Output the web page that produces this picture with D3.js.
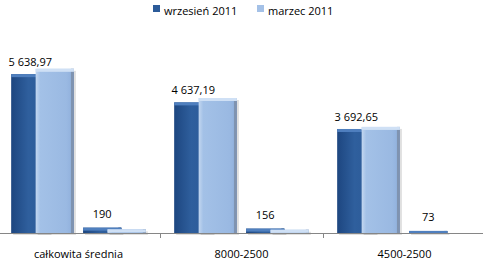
<!DOCTYPE html>
<html>
<head>
<meta charset="utf-8">
<script src="https://d3js.org/d3.v7.min.js"></script>
<style>
  body { margin: 0; background: #fff; }
  svg text { font-family: "Open Sans", sans-serif; font-size: 11px; fill: #000; }
</style>
</head>
<body>
<script>
// chart data
const categories = ["całkowita średnia", "8000-2500", "4500-2500"];
const subgroups = ["value", "change"];
const seriesNames = ["wrzesień 2011", "marzec 2011"];
const wrzesienValues = [5638.97, 4637.19, 3692.65];
const marzecValues = [5829, 4793, 3766];
const wrzesienChange = [190, 156, 73];
const marzecChange = [130, 115, 0];
const valueLabels = ["5 638,97", "4 637,19", "3 692,65"];
const changeLabels = ["190", "156", "73"];

const width = 483, height = 268;
const baseline = 233;

const svg = d3.select("body").append("svg")
  .attr("width", width).attr("height", height);

const defs = svg.append("defs");
function grad(id, stops) {
  const g = defs.append("linearGradient").attr("id", id)
    .attr("x1", 0).attr("x2", 1).attr("y1", 0).attr("y2", 0);
  stops.forEach(s => g.append("stop").attr("offset", s[0]).attr("stop-color", s[1]));
}
grad("gDark", [[0, "#1d4680"], [0.45, "#2f5f9d"], [1, "#2c5a97"]]);
grad("gLight", [[0, "#c3d7f0"], [0.12, "#a3c1e7"], [0.8, "#9ab9e2"], [1, "#8eaedb"]]);

const x0 = d3.scaleBand().domain(categories).range([-3, 486]);
const x1 = d3.scaleBand().domain(subgroups).range([0, x0.bandwidth()])
  .paddingInner(0.127).paddingOuter(0.197);
const y = d3.scaleLinear().domain([0, 6000]).range([baseline, 64]);

const barW = x1.bandwidth() * 0.61;
const styles = [
  { fill: "url(#gDark)", top: "#4f7fbe", side: "#24497c" },
  { fill: "url(#gLight)", top: "#cfe0f5", side: "#7f93b0" }
];

// rows: for each category, both subgroups, both series
const rows = [];
categories.forEach((c, i) => {
  rows.push({ c, sub: "value", s: 0, v: wrzesienValues[i] });
  rows.push({ c, sub: "value", s: 1, v: marzecValues[i] });
  rows.push({ c, sub: "change", s: 0, v: wrzesienChange[i] });
  rows.push({ c, sub: "change", s: 1, v: marzecChange[i] });
});

function barX(d) {
  return x0(d.c) + x1(d.sub) + d.s * (x1.bandwidth() - barW);
}

const bars = svg.append("g").selectAll("g").data(rows.filter(d => d.v > 0)).join("g");
// shadow
bars.append("rect")
  .attr("x", d => barX(d) + 2).attr("y", d => y(d.v) + 2)
  .attr("width", barW).attr("height", d => baseline - y(d.v))
  .attr("fill", "#000").attr("opacity", 0.12);
bars.append("rect")
  .attr("x", d => barX(d)).attr("y", d => y(d.v))
  .attr("width", barW).attr("height", d => baseline - y(d.v))
  .attr("fill", d => styles[d.s].fill);
bars.append("rect")
  .attr("x", d => barX(d) + barW - 3).attr("y", d => y(d.v))
  .attr("width", 3).attr("height", d => baseline - y(d.v))
  .attr("fill", d => styles[d.s].side);
bars.append("rect")
  .attr("x", d => barX(d)).attr("y", d => y(d.v))
  .attr("width", barW).attr("height", d => Math.min(3, baseline - y(d.v)))
  .attr("fill", d => styles[d.s].top);

// value labels above the dark bars
const labelG = svg.append("g").attr("text-anchor", "middle");
categories.forEach((c, i) => {
  labelG.append("text")
    .attr("x", x0(c) + x1("value") + barW / 2)
    .attr("y", y(wrzesienValues[i]) - 8)
    .text(valueLabels[i]);
  labelG.append("text")
    .attr("x", x0(c) + x1("change") + barW / 2)
    .attr("y", y(Math.max(wrzesienChange[i], marzecChange[i])) - 10)
    .text(changeLabels[i]);
});

// x axis
const axis = svg.append("g").attr("transform", `translate(0,${baseline})`)
  .call(d3.axisBottom(x0).tickSize(0).tickPadding(17));
axis.select(".domain").attr("stroke", "#868686").attr("d", `M0,0.5H${width}`);
axis.selectAll("text").style("font-family", "'Open Sans', sans-serif").style("font-size", "11px");
axis.selectAll(".sep").data(categories.slice(1)).join("line")
  .attr("x1", d => Math.round(x0(d)) + 0.5).attr("x2", d => Math.round(x0(d)) + 0.5)
  .attr("y1", 0).attr("y2", 5).attr("stroke", "#868686");

// legend
const legendX = [153, 257];
const legend = svg.append("g");
seriesNames.forEach((n, i) => {
  legend.append("rect").attr("x", legendX[i]).attr("y", 5)
    .attr("width", 7).attr("height", 7)
    .attr("fill", i === 0 ? "#2c5b99" : "#a4c1e7");
  legend.append("text").attr("x", legendX[i] + 11).attr("y", 14.5).text(n);
});
</script>
</body>
</html>
